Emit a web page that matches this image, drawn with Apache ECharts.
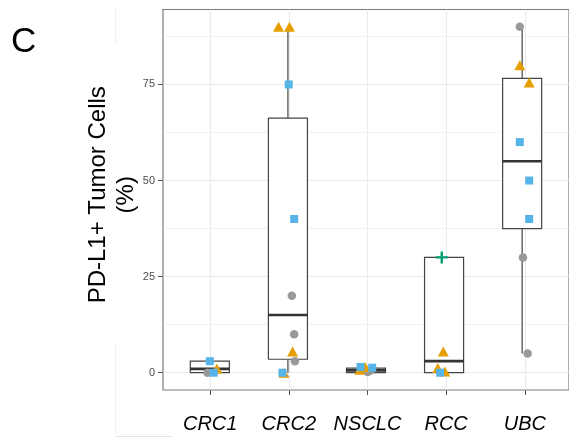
<!DOCTYPE html>
<html>
<head>
<meta charset="utf-8">
<script src="https://cdn.jsdelivr.net/npm/echarts@6/dist/echarts.min.js"></script>
<style>
  html, body { margin: 0; padding: 0; background: #fff; }
  #chart { width: 569px; height: 438px; }
</style>
</head>
<body>
<div id="chart"></div>
<script>
// cancer types on the x axis
var categories = ['CRC1', 'CRC2', 'NSCLC', 'RCC', 'UBC'];

// box summary per category
var boxMin = [0, 0, 0, 0, 5];
var boxQ1 = [0, 3.5, 0, 0, 37.5];
var boxMed = [1, 15, 0.6, 3, 55];
var boxQ3 = [3, 66.25, 1.2, 30, 76.6];
var boxMax = [3.5, 90, 1.5, 30, 90];

// jittered points, [x position, value]
var circlePts = [[0.97, 0], [2.05, 20], [2.08, 10], [2.09, 3], [3.02, 0.2], [3.06, 0.6],
  [4.97, 90], [5.01, 30], [5.07, 5]];
var trianglePts = [[1.09, 1.1], [1.88, 90], [2.02, 90], [2.06, 5.5], [1.95, 0], [2.92, 0.8],
  [2.99, 1.5], [3.99, 5.5], [3.92, 1.2], [4.01, 0.3], [4.97, 80], [5.09, 75.5]];
var squarePts = [[1.0, 3], [1.05, 0], [2.01, 75], [2.08, 40], [1.93, 0], [2.93, 1.5],
  [3.08, 1.3], [3.95, 0], [4.97, 60], [5.09, 50], [5.09, 40]];
var plusPts = [[3.97, 30]];

// axis ticks
var yTicks = [0, 25, 50, 75];
var yMinor = [12.5, 37.5, 62.5, 87.5];

var boxData = categories.map(function (c, i) {
    return [i + 1, boxMin[i], boxQ1[i], boxMed[i], boxQ3[i], boxMax[i]];
});

function renderBox(params, api) {
    var x = api.value(0);
    var half = api.size([0.5, 0])[0] / 2;
    var pMin = api.coord([x, api.value(1)]);
    var pQ1 = api.coord([x, api.value(2)]);
    var pMed = api.coord([x, api.value(3)]);
    var pQ3 = api.coord([x, api.value(4)]);
    var pMax = api.coord([x, api.value(5)]);
    var line = { stroke: '#444', lineWidth: 1.2, fill: null };
    return {
        type: 'group',
        children: [
            { type: 'line', shape: { x1: pMax[0], y1: pMax[1], x2: pQ3[0], y2: pQ3[1] }, style: line },
            { type: 'line', shape: { x1: pQ1[0], y1: pQ1[1], x2: pMin[0], y2: pMin[1] }, style: line },
            { type: 'rect', shape: { x: pQ3[0] - half, y: pQ3[1], width: half * 2, height: pQ1[1] - pQ3[1] },
              style: { fill: '#fff', stroke: '#444', lineWidth: 1.2 } },
            { type: 'line', shape: { x1: pMed[0] - half, y1: pMed[1], x2: pMed[0] + half, y2: pMed[1] },
              style: { stroke: '#333', lineWidth: 2.6, fill: null } }
        ]
    };
}

var gridLines = yTicks.map(function (v) {
    return { yAxis: v, lineStyle: { width: 1.1 } };
}).concat(yMinor.map(function (v) {
    return { yAxis: v, lineStyle: { width: 0.6 } };
}));

var myChart = echarts.init(document.getElementById('chart'));
var option = {
    backgroundColor: '#fff',
    animation: false,
    textStyle: { fontFamily: 'Liberation Sans' },
    grid: [
        { left: 163, right: -3, top: 9.5, bottom: 48, show: true, borderColor: '#7a7a7a', borderWidth: 1.2 },
        { left: 210.2, right: 44.2, top: 9.5, bottom: 48 }
    ],
    xAxis: [
        { gridIndex: 0, type: 'value', min: 0.4, max: 5.6, show: false },
        {
            gridIndex: 1,
            type: 'category',
            data: categories,
            boundaryGap: false,
            axisLine: { show: false, onZero: false },
            axisTick: { length: 5, interval: 0, lineStyle: { color: '#555' } },
            axisLabel: { interval: 0, fontSize: 20, fontStyle: 'italic', color: '#000', margin: 24 },
            splitLine: { show: true, interval: 0, lineStyle: { color: '#ebebeb', width: 1.1 } }
        }
    ],
    yAxis: [
        {
            gridIndex: 0,
            type: 'value',
            min: -4.5,
            max: 94.5,
            axisLine: { show: false, onZero: false },
            axisTick: { show: true, customValues: yTicks, length: 5, lineStyle: { color: '#555' } },
            axisLabel: { customValues: yTicks, fontSize: 11, color: '#4d4d4d', margin: 8 },
            splitLine: { show: false },
            name: 'PD-L1+ Tumor Cells\n(%)',
            nameLocation: 'middle',
            nameGap: 23,
            nameMoveOverlap: false,
            nameTextStyle: { fontSize: 24, color: '#000', lineHeight: 28, padding: [0, 0, 0, 10] }
        },
        { gridIndex: 1, type: 'value', min: -4.5, max: 94.5, show: false }
    ],
    series: [
        {
            type: 'line',
            xAxisIndex: 0,
            yAxisIndex: 0,
            data: [],
            z: 1,
            silent: true,
            markLine: {
                silent: true,
                z: 1,
                symbol: ['none', 'none'],
                label: { show: false },
                lineStyle: { color: '#ebebeb', type: 'solid' },
                data: gridLines
            }
        },
        {
            type: 'custom',
            xAxisIndex: 0,
            yAxisIndex: 0,
            z: 2,
            renderItem: renderBox,
            encode: { x: 0, y: [1, 2, 3, 4, 5] },
            data: boxData
        },
        {
            type: 'scatter', xAxisIndex: 0, yAxisIndex: 0, z: 3,
            symbol: 'circle', symbolSize: 8.5,
            itemStyle: { color: '#999999', opacity: 1 },
            data: circlePts
        },
        {
            type: 'scatter', xAxisIndex: 0, yAxisIndex: 0, z: 3,
            symbol: 'triangle', symbolSize: [11, 10],
            itemStyle: { color: '#E69F00', opacity: 1 },
            data: trianglePts
        },
        {
            type: 'scatter', xAxisIndex: 0, yAxisIndex: 0, z: 3,
            symbol: 'rect', symbolSize: 8,
            itemStyle: { color: '#56B4E9', opacity: 1 },
            data: squarePts
        },
        {
            type: 'scatter', xAxisIndex: 0, yAxisIndex: 0, z: 3,
            symbol: 'path://M4,0h2v4h4v2h-4v4h-2v-4h-4v-2h4z', symbolSize: 12,
            itemStyle: { color: '#009E73', opacity: 1 },
            data: plusPts
        }
    ],
    graphic: [
        { type: 'text', x: 11, y: 25, style: { text: 'C', font: '35px "Liberation Sans"', fill: '#000' } },
        { type: 'line', shape: { x1: 115.5, y1: 7, x2: 115.5, y2: 43 }, style: { stroke: '#f0f0f0', lineWidth: 1 } },
        { type: 'line', shape: { x1: 115.5, y1: 345, x2: 115.5, y2: 436 }, style: { stroke: '#f0f0f0', lineWidth: 1 } },
        { type: 'line', shape: { x1: 116, y1: 436.5, x2: 172, y2: 436.5 }, style: { stroke: '#e3e3e3', lineWidth: 1 } }
    ]
};
myChart.setOption(option);
</script>
</body>
</html>
